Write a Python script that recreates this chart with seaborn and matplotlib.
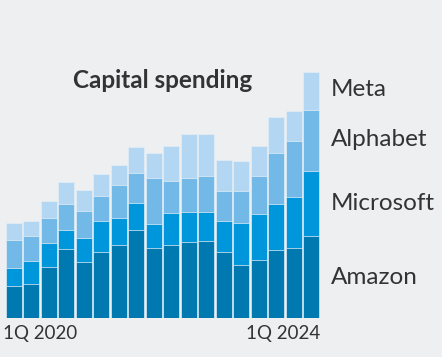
import pandas as pd
import matplotlib.pyplot as plt
import seaborn as sns

# Quarterly capital spending, $ billions
QUARTERS = ["1Q20", "2Q20", "3Q20", "4Q20", "1Q21", "2Q21", "3Q21", "4Q21",
            "1Q22", "2Q22", "3Q22", "4Q22", "1Q23", "2Q23", "3Q23", "4Q23",
            "1Q24", "2Q24"]
AMAZON = [6.8, 7.3, 11.0, 14.8, 12.0, 14.2, 15.7, 18.9,
          14.9, 15.7, 16.3, 16.5, 14.2, 11.4, 12.5, 14.5, 14.9, 17.6]
MICROSOFT = [3.8, 4.8, 5.0, 4.1, 5.1, 6.5, 5.8, 5.8,
             5.3, 6.8, 6.3, 6.2, 6.6, 8.9, 9.8, 9.8, 10.9, 13.8]
ALPHABET = [6.1, 5.5, 5.4, 5.5, 5.9, 5.5, 6.9, 6.4,
            9.8, 6.9, 7.3, 7.6, 6.3, 6.9, 8.1, 11.1, 12.1, 13.2]
META = [3.6, 3.2, 3.7, 4.6, 4.3, 4.7, 4.3, 5.4,
        5.4, 7.4, 9.4, 9.1, 6.8, 6.3, 6.5, 7.7, 6.3, 8.1]

SERIES = ["Amazon", "Microsoft", "Alphabet", "Meta"]
COLORS = {"Amazon": "#0078b0", "Microsoft": "#0096db",
          "Alphabet": "#72b9e8", "Meta": "#b3d7f2"}
BG = "#eeeff1"
TEXT = "#333333"


def build_frame():
    df = pd.DataFrame({"Quarter": QUARTERS, "Amazon": AMAZON,
                       "Microsoft": MICROSOFT, "Alphabet": ALPHABET,
                       "Meta": META})
    # cumulative tops for stacking
    for i, s in enumerate(SERIES):
        df[s + "_top"] = df[SERIES[:i + 1]].sum(axis=1)
    return df


def main():
    df = build_frame()
    sns.set_style("white")
    plt.rcParams["font.family"] = ["Lato", "DejaVu Sans"]

    fig = plt.figure(figsize=(4.42, 3.57), dpi=100, facecolor=BG)
    ax = fig.add_axes([5 / 442, 1 - 318 / 357, 315 / 442, 258 / 357])
    ax.set_facecolor(BG)

    # draw from the top of the stack downwards
    for s in reversed(SERIES):
        sns.barplot(data=df, x="Quarter", y=s + "_top", color=COLORS[s],
                    width=0.93, saturation=1, edgecolor="#e4eef6",
                    linewidth=0.5, ax=ax)

    ax.set_xlim(-0.5, len(QUARTERS) - 0.5)
    ax.set_ylim(0, 55.2)
    ax.set_xticks([])
    ax.set_yticks([])
    ax.set_xlabel("")
    ax.set_ylabel("")
    for sp in ax.spines.values():
        sp.set_visible(False)

    ax.text(-0.6, -1.6, "1Q 2020", ha="left", va="top", fontsize=13.5,
            color=TEXT)
    ax.text(len(QUARTERS) - 0.5, -1.6, "1Q 2024", ha="right", va="top",
            fontsize=13.5, color=TEXT)

    fig.text(163 / 442, 1 - 81 / 357, "Capital spending", ha="center",
             va="center", fontsize=17.5, fontweight="bold", color=TEXT)

    label_y = {"Meta": 90, "Alphabet": 140, "Microsoft": 203, "Amazon": 277}
    for s in SERIES:
        fig.text(331 / 442, 1 - label_y[s] / 357, s, ha="left", va="center",
                 fontsize=17.5, color=TEXT)

    fig.savefig("out.png", dpi=100, facecolor=BG)
    plt.close(fig)


if __name__ == "__main__":
    main()
